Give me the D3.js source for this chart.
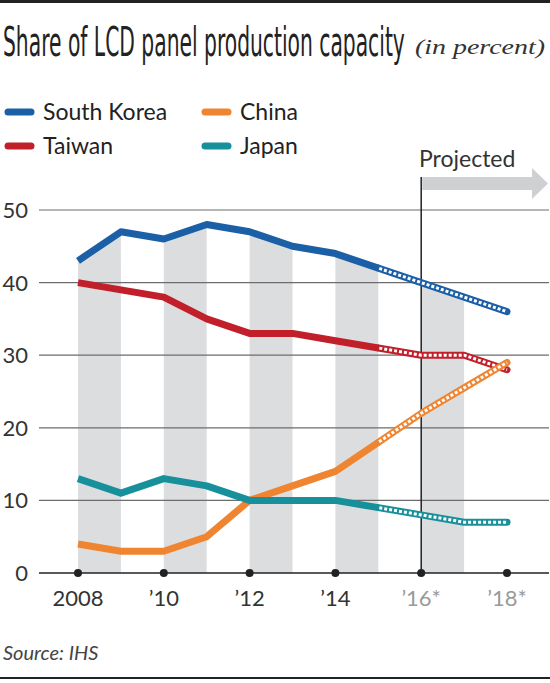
<!DOCTYPE html>
<html lang="en">
<head>
    <meta charset="utf-8" />
    <title>Share of LCD panel production capacity</title>
    <script src="https://d3js.org/d3.v7.min.js"></script>
    <style>
        body {
            margin: 0;
            padding: 0;
            background: #fff;
        }
        svg text {
            font-family: Lato, "Open Sans", sans-serif;
        }
    </style>
</head>
<body>
<svg id="chart"></svg>
<script>
    var w = 550;
    var h = 683;

    // data
    var years = [2008, 2009, 2010, 2011, 2012, 2013, 2014, 2015, 2016, 2017, 2018];
    var southKorea = [43, 47, 46, 48, 47, 45, 44, 42, 40, 38, 36];
    var taiwan = [40, 39, 38, 35, 33, 33, 32, 31, 30, 30, 28];
    var china = [4, 3, 3, 5, 10, 12, 14, 18, 22, 25.5, 29];
    var japan = [13, 11, 13, 12, 10, 10, 10, 9, 8, 7, 7];
    var projectedFrom = 2015;
    var projectedLabelYear = 2016;
    var yTicks = [0, 10, 20, 30, 40, 50];
    var xTicks = [2008, 2010, 2012, 2014, 2016, 2018];
    var xTickLabels = ["2008", "\u201910", "\u201912", "\u201914", "\u201916*", "\u201918*"];
    var bandStarts = [2008, 2010, 2012, 2014, 2016];

    var series = [
        {name: "South Korea", values: southKorea, color: "#1b5fa6"},
        {name: "Taiwan", values: taiwan, color: "#c1202b"},
        {name: "China", values: china, color: "#ef8531"},
        {name: "Japan", values: japan, color: "#17909b"}
    ];

    var svg = d3.select("#chart")
        .attr("width", w)
        .attr("height", h);

    var xScale = d3.scaleLinear()
        .domain([2008, 2018])
        .range([78, 507]);

    var yScale = d3.scaleLinear()
        .domain([0, 50])
        .range([573, 210]);

    // frame lines top and bottom
    svg.append("rect").attr("x", 0).attr("y", 0).attr("width", w).attr("height", 3).attr("fill", "#222");
    svg.append("rect").attr("x", 0).attr("y", 677).attr("width", w).attr("height", 2).attr("fill", "#222");

    // squeeze a text horizontally so it fills a given width
    function fitWidth(sel, x, y, width) {
        var natural = sel.node().getComputedTextLength();
        var sx = width / natural;
        sel.attr("x", 0).attr("y", 0)
            .attr("transform", "translate(" + x + "," + y + ") scale(" + sx + ",1)");
    }

    // title
    var title = svg.append("text")
        .style("font-family", "'Liberation Sans Narrow', 'DejaVu Sans Condensed', sans-serif")
        .style("font-size", "40px")
        .attr("fill", "#222")
        .text("Share of LCD panel production capacity");
    fitWidth(title, 3, 56, 402);

    var sub = svg.append("text")
        .style("font-family", "'Liberation Serif', serif")
        .style("font-style", "italic")
        .style("font-size", "22px")
        .attr("fill", "#333")
        .text("(in percent)");
    fitWidth(sub, 415, 54, 130);

    // legend
    var legend = svg.selectAll(".legend")
        .data(series)
        .enter().append("g")
        .attr("class", "legend")
        .attr("transform", function(d, i) {
            return "translate(" + (i < 2 ? 0 : 197) + "," + (i % 2 === 0 ? 112 : 146) + ")";
        });

    legend.append("line")
        .attr("x1", 8).attr("x2", 31)
        .attr("y1", 0).attr("y2", 0)
        .attr("stroke", function(d) { return d.color; })
        .attr("stroke-width", 7)
        .attr("stroke-linecap", "round");

    legend.append("text")
        .attr("x", 43)
        .attr("y", 8)
        .style("font-size", "23px")
        .attr("fill", "#222")
        .text(function(d) { return d.name; });

    // grey bands under the South Korea line
    var bandArea = d3.area()
        .x(function(d) { return xScale(d[0]); })
        .y0(yScale(0))
        .y1(function(d) { return yScale(d[1]); });

    svg.selectAll(".band")
        .data(bandStarts)
        .enter().append("path")
        .attr("class", "band")
        .attr("fill", "#dcdddf")
        .attr("d", function(start) {
            var i = years.indexOf(start);
            return bandArea([[years[i], southKorea[i]], [years[i + 1], southKorea[i + 1]]]);
        });

    // gridlines
    svg.selectAll(".grid")
        .data(yTicks.filter(function(d) { return d > 0; }))
        .enter().append("line")
        .attr("class", "grid")
        .attr("x1", 39).attr("x2", 549)
        .attr("y1", function(d) { return yScale(d); })
        .attr("y2", function(d) { return yScale(d); })
        .attr("stroke", "#6d6d6d")
        .attr("stroke-width", 1.2);

    // y labels
    svg.selectAll(".ylab")
        .data(yTicks)
        .enter().append("text")
        .attr("class", "ylab")
        .attr("x", 28)
        .attr("y", function(d) { return yScale(d) + 8; })
        .attr("text-anchor", "end")
        .style("font-size", "22px")
        .attr("fill", "#333")
        .text(function(d) { return d; });

    // projected marker
    svg.append("line")
        .attr("x1", xScale(projectedLabelYear)).attr("x2", xScale(projectedLabelYear))
        .attr("y1", yScale(0)).attr("y2", 177)
        .attr("stroke", "#222")
        .attr("stroke-width", 1.5);

    var ax = xScale(projectedLabelYear) + 1;
    svg.append("path")
        .attr("d", "M" + ax + ",177 L532,177 L532,168 L548,183.5 L532,199 L532,190 L" + ax + ",190 Z")
        .attr("fill", "#cfd0d2");

    svg.append("text")
        .attr("x", 419)
        .attr("y", 167)
        .style("font-size", "23px")
        .attr("fill", "#333")
        .text("Projected");

    // lines
    var line = d3.line()
        .x(function(d) { return xScale(d[0]); })
        .y(function(d) { return yScale(d[1]); });

    series.forEach(function(s) {
        var pts = years.map(function(y, i) { return [y, s.values[i]]; });
        var solid = pts.filter(function(p) { return p[0] <= projectedFrom; });
        var proj = pts.filter(function(p) { return p[0] >= projectedFrom; });

        svg.append("path")
            .attr("d", line(solid))
            .attr("fill", "none")
            .attr("stroke", s.color)
            .attr("stroke-width", 7)
            .attr("stroke-linejoin", "round")
            .attr("stroke-linecap", "butt");

        svg.append("path")
            .attr("d", line(proj))
            .attr("fill", "none")
            .attr("stroke", s.color)
            .attr("stroke-width", 7)
            .attr("stroke-linejoin", "round")
            .attr("stroke-linecap", "round");

        svg.append("path")
            .attr("d", line(proj))
            .attr("fill", "none")
            .attr("stroke", "#fff")
            .attr("stroke-width", 3)
            .attr("stroke-dasharray", "3,2")
            .attr("stroke-dashoffset", -1);
    });

    // x axis
    svg.append("line")
        .attr("x1", 39).attr("x2", 549)
        .attr("y1", yScale(0)).attr("y2", yScale(0))
        .attr("stroke", "#222")
        .attr("stroke-width", 1.5);

    svg.selectAll(".dot")
        .data(xTicks)
        .enter().append("circle")
        .attr("class", "dot")
        .attr("cx", function(d) { return xScale(d); })
        .attr("cy", yScale(0))
        .attr("r", 4)
        .attr("fill", "#222");

    svg.selectAll(".xlab")
        .data(xTicks)
        .enter().append("text")
        .attr("class", "xlab")
        .attr("x", function(d) { return xScale(d); })
        .attr("y", 606)
        .attr("text-anchor", "middle")
        .style("font-size", "22px")
        .attr("fill", function(d) { return d > projectedFrom ? "#9a9a9a" : "#333"; })
        .text(function(d, i) { return xTickLabels[i]; });

    // source
    svg.append("text")
        .attr("x", 3)
        .attr("y", 660)
        .style("font-size", "20px")
        .style("font-style", "italic")
        .attr("fill", "#444")
        .text("Source: IHS");
</script>
</body>
</html>
